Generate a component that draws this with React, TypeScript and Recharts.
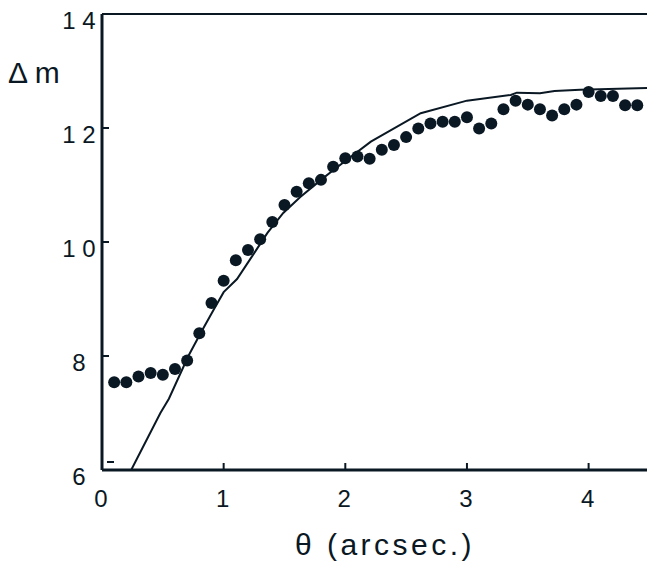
import React from 'react';
import { ComposedChart, Line, Scatter, XAxis, YAxis, ReferenceLine } from 'recharts';

const INK = '#0a1824';
const FONT = '"Liberation Sans", Arial, sans-serif';

const dotTheta = [0.1, 0.2, 0.3, 0.4, 0.5, 0.6, 0.7, 0.8, 0.9, 1.0, 1.1, 1.2, 1.3, 1.4, 1.5, 1.6, 1.7, 1.8, 1.9, 2.0, 2.1, 2.2, 2.3, 2.4, 2.5, 2.6, 2.7, 2.8, 2.9, 3.0, 3.1, 3.2, 3.3, 3.4, 3.5, 3.6, 3.7, 3.8, 3.9, 4.0, 4.1, 4.2, 4.3, 4.4];
const dotDm = [7.54, 7.54, 7.64, 7.7, 7.67, 7.77, 7.92, 8.4, 8.93, 9.32, 9.68, 9.86, 10.05, 10.35, 10.65, 10.88, 11.03, 11.09, 11.32, 11.47, 11.5, 11.46, 11.62, 11.7, 11.84, 11.99, 12.08, 12.11, 12.11, 12.19, 11.99, 12.08, 12.33, 12.48, 12.41, 12.33, 12.22, 12.33, 12.41, 12.63, 12.56, 12.56, 12.4, 12.4];

const modelTheta = [0.24, 0.48, 0.55, 0.71, 0.81, 0.92, 1.0, 1.11, 1.24, 1.36, 1.49, 1.63, 1.8, 1.9, 2.21, 2.62, 3.0, 3.36, 3.41, 3.6, 3.72, 3.93, 4.48];
const modelDm = [6.0, 7.0, 7.25, 8.0, 8.4, 8.82, 9.12, 9.35, 9.77, 10.16, 10.51, 10.79, 11.09, 11.26, 11.76, 12.26, 12.48, 12.58, 12.62, 12.61, 12.65, 12.67, 12.7];

const xTicks = [0, 1, 2, 3, 4];
const xTickLabels = ['0', '1', '2', '3', '4'];
const yTicks = [6, 8, 10, 12, 14];
const yTickLabels = ['6', '8', '1 0', '1 2', '1 4'];

const dotData = dotTheta.map((t, i) => ({ theta: t, dm: dotDm[i] }));
const modelData = modelTheta.map((t, i) => ({ theta: t, dm: modelDm[i] }));

const YTick = (props: any) => {
  const { x, y, payload } = props;
  const idx = yTicks.indexOf(payload.value);
  const isBottom = payload.value === 6;
  return (
    <g>
      {isBottom ? (
        <line x1={x + 5} x2={x + 12} y1={y - 8} y2={y - 8} stroke={INK} strokeWidth={2} />
      ) : (
        <line x1={x} x2={x + 7} y1={y} y2={y} stroke={INK} strokeWidth={2} />
      )}
      <text x={x - 23} y={y + 15} textAnchor="middle" fontSize={24} fontFamily={FONT} fill={INK}>
        {yTickLabels[idx]}
      </text>
    </g>
  );
};

const XTick = (props: any) => {
  const { x, y, payload } = props;
  const idx = xTicks.indexOf(payload.value);
  return (
    <g>
      <line x1={x} x2={x} y1={y} y2={y - 7} stroke={INK} strokeWidth={2} />
      <text x={x - 1} y={y + 37} textAnchor="middle" fontSize={24} fontFamily={FONT} fill={INK}>
        {xTickLabels[idx]}
      </text>
    </g>
  );
};

const Dot = (props: any) => <circle cx={props.cx} cy={props.cy} r={6} fill={INK} />;

export default function App() {
  return (
    <div style={{ position: 'absolute', left: 0, top: 0, width: 647, height: 561, background: '#fff' }}>
      <ComposedChart width={647} height={561} margin={{ top: 14, right: 0, bottom: 0, left: 0 }}>
        <XAxis
          dataKey="theta"
          type="number"
          domain={[0, 4.48]}
          ticks={xTicks}
          allowDataOverflow
          height={91}
          tickSize={0}
          tickMargin={0}
          tickLine={false}
          tick={<XTick />}
          axisLine={{ stroke: INK, strokeWidth: 3 }}
          label={{
            content: () => (
              <text x={385} y={555} textAnchor="middle" fontSize={30} letterSpacing={3.5} fontFamily={FONT} fill={INK}>
                θ (arcsec.)
              </text>
            ),
          }}
        />
        <YAxis
          dataKey="dm"
          type="number"
          domain={[6, 14]}
          ticks={yTicks}
          allowDataOverflow
          width={102}
          tickSize={0}
          tickMargin={0}
          tickLine={false}
          tick={<YTick />}
          axisLine={{ stroke: INK, strokeWidth: 3 }}
          label={{
            content: () => (
              <text x={8} y={83} fontSize={30} fontFamily={FONT} fill={INK}>
                Δ m
              </text>
            ),
          }}
        />
        <ReferenceLine y={14} stroke={INK} strokeWidth={2} ifOverflow="visible" />
        <Line
          data={modelData}
          dataKey="dm"
          type="linear"
          stroke={INK}
          strokeWidth={2}
          dot={false}
          activeDot={false}
          isAnimationActive={false}
        />
        <Scatter data={dotData} dataKey="dm" fill={INK} shape={<Dot />} isAnimationActive={false} />
      </ComposedChart>
    </div>
  );
}
